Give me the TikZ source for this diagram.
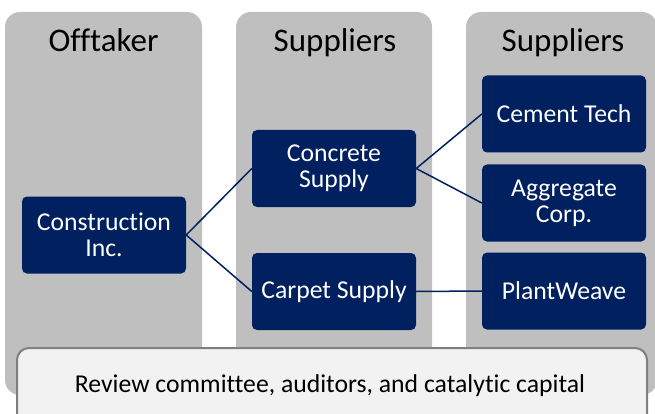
\documentclass[tikz,border=0pt]{standalone}
\usepackage{fontspec}
\setmainfont{Carlito}[Ligatures=NoCommon]
\definecolor{navy}{HTML}{002060}
\definecolor{colgrey}{HTML}{BFBFBF}
\definecolor{panel}{HTML}{F2F2F2}
\definecolor{rim}{HTML}{7F7F7F}

\begin{document}
\begin{tikzpicture}[x=1pt, y=-1pt,
    column/.style={fill=colgrey, rounded corners=15pt},
    head/.style={anchor=base, font=\fontsize{33}{36}\selectfont},
    firm/.style={fill=navy, text=white, rounded corners=5pt, inner sep=0pt,
        minimum width=164pt, minimum height=77pt, align=center,
        font=\fontsize{25.7}{26}\selectfont},
    link/.style={draw=navy, line width=1.5pt}]
        \useasboundingbox (0,0) rectangle (655,414);
        \clip (0,0) rectangle (655,414);
        \fill[column] (5,12) rectangle (202,395);
        \fill[column] (236,12) rectangle (432,395);
        \fill[column] (466,12) rectangle (657,395);
        \node[head] (offtaker) at (103.5,52) {Offtaker};
        \node[head] (suppliersA) at (335,52) {Suppliers};
        \node[head] (suppliersB) at (563,52) {Suppliers};
        \node[firm] (construction) at (104,235) {Construction\\Inc.};
        \node[firm] (concrete) at (334,168.5) {Concrete\\Supply};
        \node[firm] (carpet) at (334,291.5) {Carpet Supply};
        \node[firm] (cement) at (564,114) {Cement Tech};
        \node[firm] (aggregate) at (564,203) {Aggregate\\Corp.};
        \node[firm] (plantweave) at (564,291) {PlantWeave};
        \draw[link] (construction.east) -- (concrete.west);
        \draw[link] (construction.east) -- (carpet.west);
        \draw[link] (concrete.east) -- (cement.west);
        \draw[link] (concrete.east) -- (aggregate.west);
        \draw[link] (carpet.east) -- (plantweave.west);
        \draw[fill=panel, draw=rim, line width=2pt, rounded corners=12pt] (17,348) rectangle (647,440);
        \node[anchor=base, font=\fontsize{25.7}{28}\selectfont] (review) at (330,392) {Review committee, auditors, and catalytic capital};
    \end{tikzpicture}
\end{document}
